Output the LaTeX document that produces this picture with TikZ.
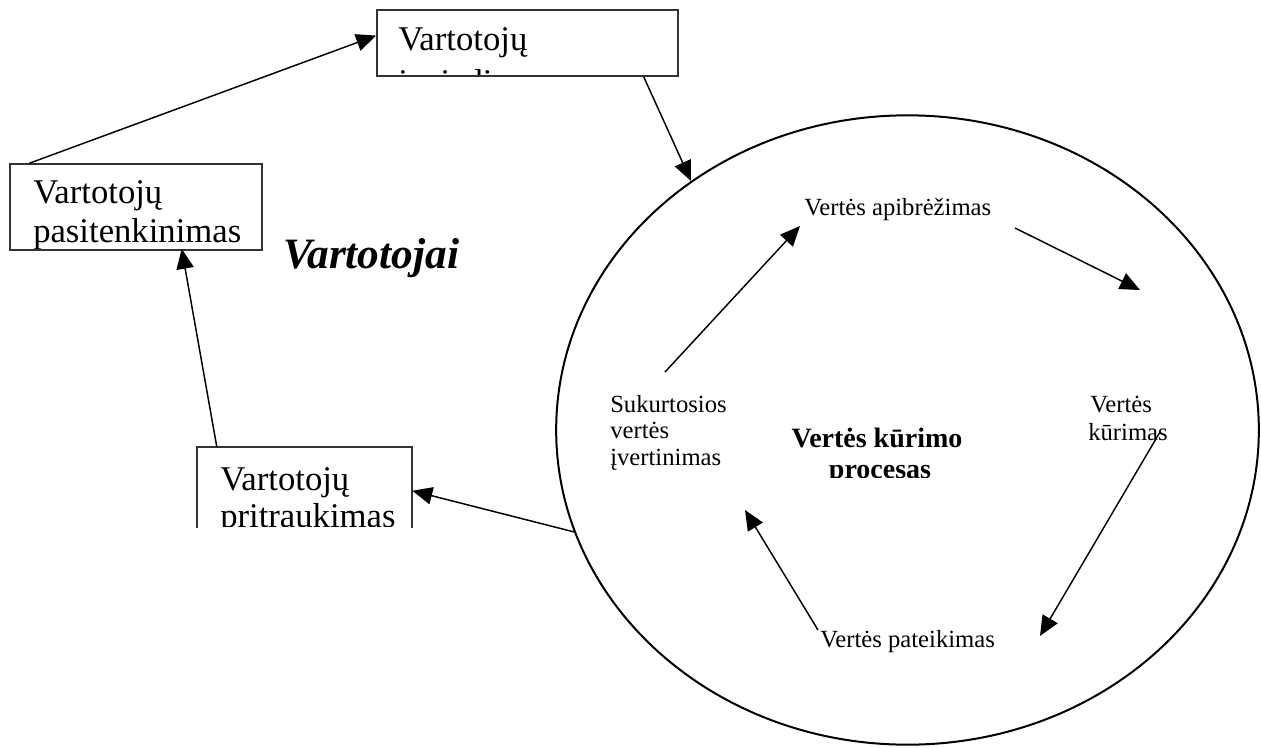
\documentclass[tikz,border=0pt]{standalone}
\usepackage{fontspec}
\setmainfont{Liberation Serif}
\usetikzlibrary{arrows.meta,shapes.geometric,calc}

\tikzset{
  boxframe/.style={draw=black!80, line width=1.2pt, rectangle, inner sep=0pt},
  boxtext/.style={anchor=base west, inner sep=0pt, font=\fontsize{26}{30}\selectfont},
  steptext/.style={anchor=base west, inner sep=0pt, font=\fontsize{18.5}{22}\selectfont},
  arr/.style={line width=1.1pt, -{Triangle[length=15pt,width=13pt]}},
}

\begin{document}
\begin{tikzpicture}[x=0.75pt, y=-0.75pt]
  \useasboundingbox (0,0) rectangle (1261,747);

  % value-creation process
  \node[ellipse, draw, line width=1.5pt, minimum width=527pt, minimum height=472pt, inner sep=0pt] (vp) at (907.5,430) {};

  % customer boxes
  \node[boxframe, minimum width=225.75pt, minimum height=49.5pt] (img) at (527.5,43) {};
  \node[boxframe, minimum width=189pt, minimum height=64.5pt] (sat) at (136,207) {};
  \node[rectangle, inner sep=0pt, minimum width=161.25pt, minimum height=60.75pt] (attr) at (304.5,487.5) {};
  \draw[draw=black!80, line width=1.2pt] (attr.south west) -- (attr.north west) -- (attr.north east) -- (attr.south east);

  \begin{scope}
    \clip ($(img.north west)+(0,2)$) rectangle ($(img.south east)+(0,-2)$);
    \node[boxtext] (imgA) at (398,50) {Vartotojų};
    \node[boxtext] (imgB) at (398,93) {įvaizdis};
  \end{scope}
  \begin{scope}
    \clip ($(sat.north west)+(0,2)$) rectangle ($(sat.south east)+(0,-2)$);
    \node[boxtext] (satA) at (33,203) {Vartotojų};
    \node[boxtext] (satB) at (33,242) {pasitenkinimas};
  \end{scope}
  \begin{scope}
    \clip (attr.north west) rectangle ($(attr.south east)+(0,-2)$);
    \node[boxtext] (attrA) at (220,490) {Vartotojų};
    \node[boxtext] (attrB) at (220,527) {pritraukimas};
  \end{scope}

  \node[anchor=base west, inner sep=0pt, font=\fontsize{32.5}{38}\selectfont\bfseries\itshape] (cust) at (283,268) {Vartotojai};

  % process steps
  \node[steptext] (apib) at (804,215) {Vertės apibrėžimas};
  \node[steptext] (kur1) at (1090,412) {Vertės};
  \node[steptext] (kur2) at (1088,440) {kūrimas};
  \node[steptext] (pat) at (820,647) {Vertės pateikimas};
  \node[steptext] (suk) at (610,412) {Sukurtosios};
  \node[steptext] (sukB) at (610,438) {vertės};
  \node[steptext] (iv) at (610,465) {įvertinimas};

  \node[anchor=base, inner sep=0pt, font=\fontsize{21}{25}\selectfont\bfseries] (procA) at (877,447) {Vertės kūrimo};
  \begin{scope}
    \clip (780,450) rectangle (990,477);
    \node[anchor=base, inner sep=0pt, font=\fontsize{21}{25}\selectfont\bfseries] (procB) at (880,478) {procesas};
  \end{scope}

  % outer cycle
  \draw[arr] ($(sat.north west)!0.08!(sat.north east)$) -- ($(img.north west)!0.39!(img.south west)$);
  \draw[arr] ($(img.south west)!0.884!(img.south east)$) -- (vp.131.25);
  \draw[arr] (vp.197.1) -- ($(attr.north east)!0.54!(attr.south east)$);
  \draw[arr] ($(attr.north west)!0.093!(attr.north east)$) -- ($(sat.south west)!0.68!(sat.south east)+(0,-2)$);

  % inner cycle
  \draw[arr] ($(suk.base west)+(55,-40)$) -- ($(apib.base west)+(-4,11)$);
  \draw[arr] ($(apib.base west)+(211,13)$) -- ($(kur1.base west)+(50,-122)$);
  \draw[arr] ($(kur2.base west)+(72,-8)$) -- ($(pat.base west)+(220,-11)$);
  \draw[arr] ($(pat.base west)+(-2,-17)$) -- ($(iv.base west)+(135,45)$);
\end{tikzpicture}
\end{document}
